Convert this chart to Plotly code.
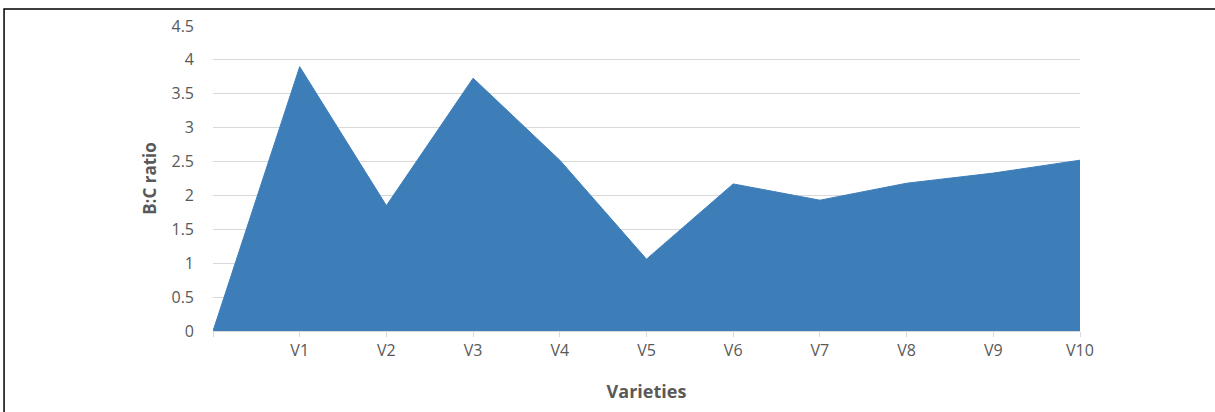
import plotly.graph_objects as go

# Data
x_labels = ["", "V1", "V2", "V3", "V4", "V5", "V6", "V7", "V8", "V9", "V10"]
bc_ratio = [0, 3.9, 1.85, 3.73, 2.52, 1.06, 2.17, 1.93, 2.18, 2.33, 2.52]
y_ticks = [0, 0.5, 1, 1.5, 2, 2.5, 3, 3.5, 4, 4.5]
y_tick_text = ["0", "0.5", "1", "1.5", "2", "2.5", "3", "3.5", "4", "4.5"]

x_pos = list(range(len(x_labels)))

fig = go.Figure()
fig.add_trace(go.Scatter(
    x=x_pos, y=bc_ratio, mode="lines", fill="tozeroy",
    line=dict(color="#3D7EB9", width=1), fillcolor="#3D7EB9",
    hoverinfo="skip", showlegend=False,
))

FONT = "Open Sans, Noto Sans, sans-serif"
GRAY = "#595959"

fig.update_layout(
    width=1215, height=412,
    margin=dict(l=213, r=135, t=26, b=81),
    paper_bgcolor="white", plot_bgcolor="white",
    font=dict(family=FONT, color=GRAY, size=16),
    xaxis=dict(
        range=[0, len(x_labels) - 1], tickmode="array",
        tickvals=x_pos, ticktext=x_labels,
        showgrid=False, zeroline=False,
        showline=True, linecolor="#d9d9d9", linewidth=1,
        ticks="outside", ticklen=5, tickcolor="#d9d9d9",
        tickfont=dict(size=16, color=GRAY),
        title=dict(text="<b>Varieties</b>", font=dict(size=18, color=GRAY), standoff=25),
    ),
    yaxis=dict(
        range=[0, 4.5], tickmode="array", tickvals=y_ticks, ticktext=y_tick_text,
        showgrid=True, gridcolor="#d9d9d9", gridwidth=1,
        zeroline=False, showline=False, ticks="",
        ticklabelstandoff=18,
        tickfont=dict(size=16, color=GRAY),
        title=dict(text="<b>B:C ratio</b>", font=dict(size=17, color=GRAY), standoff=10),
    ),
    shapes=[dict(
        type="rect", xref="paper", yref="paper",
        x0=-0.241, x1=1.3, y0=-0.5, y1=1.056,
        line=dict(color="black", width=1.5), fillcolor="rgba(0,0,0,0)", layer="above",
    )],
)

fig.write_html(
    "out.html",
    config={"displayModeBar": False},
    post_script="document.body.style.margin='0';document.body.style.overflow='hidden';",
)
